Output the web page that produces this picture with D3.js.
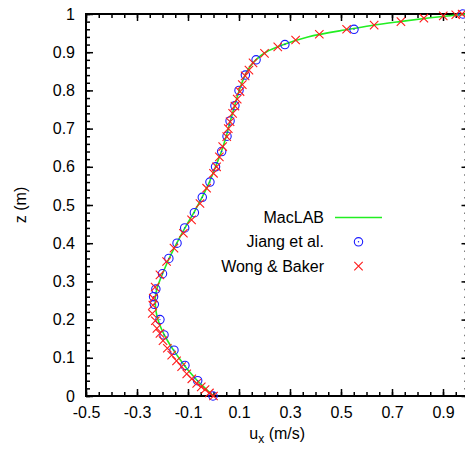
<!DOCTYPE html>
<html>
<head>
<meta charset="utf-8">
<script src="https://cdn.jsdelivr.net/npm/d3@7"></script>
<style>
  body { margin: 0; background: #fff; }
  text { font-family: "Liberation Sans", Arial, Helvetica, sans-serif; fill: #000; }
</style>
</head>
<body>
<div class="chart"></div>
<script>
  'use strict';

  // Tick labels
  var xTicks = [-0.5, -0.3, -0.1, 0.1, 0.3, 0.5, 0.7, 0.9],
      yTicks = [0, 0.1, 0.2, 0.3, 0.4, 0.5, 0.6, 0.7, 0.8, 0.9, 1];

  // MacLAB profile (z, u)
  var macZ = [0, 0.02, 0.04, 0.06, 0.08, 0.10, 0.12, 0.14, 0.16, 0.18, 0.20, 0.22, 0.24, 0.26, 0.28, 0.30,
              0.32, 0.36, 0.40, 0.44, 0.48, 0.52, 0.56, 0.60, 0.64, 0.68, 0.72, 0.76, 0.80, 0.84, 0.86,
              0.88, 0.90, 0.92, 0.94, 0.96, 0.97, 0.98, 0.99, 1.00];
  var macU = [0, -0.032, -0.063, -0.090, -0.114, -0.136, -0.157, -0.176, -0.193, -0.207, -0.218, -0.225,
              -0.228, -0.228, -0.222, -0.212, -0.200, -0.174, -0.144, -0.112, -0.077, -0.045, -0.016,
              0.008, 0.031, 0.050, 0.066, 0.083, 0.101, 0.124, 0.141, 0.166, 0.205, 0.275, 0.370, 0.530,
              0.620, 0.730, 0.850, 0.990];

  // Jiang et al.
  var jiangZ = [0, 0.04, 0.08, 0.12, 0.16, 0.20, 0.24, 0.26, 0.28, 0.32, 0.36, 0.40, 0.44, 0.48, 0.52,
                0.56, 0.60, 0.64, 0.68, 0.72, 0.76, 0.80, 0.84, 0.88, 0.92, 0.96, 1.00];
  var jiangU = [-0.002, -0.062, -0.112, -0.155, -0.194, -0.210, -0.232, -0.235, -0.226, -0.200, -0.175,
                -0.143, -0.113, -0.075, -0.044, -0.014, 0.008, 0.032, 0.053, 0.065, 0.084, 0.100, 0.125,
                0.167, 0.280, 0.551, 0.978];

  // Wong & Baker
  var wongZ = [0, 0.008, 0.017, 0.024, 0.033, 0.045, 0.058, 0.077, 0.092, 0.107, 0.125, 0.145, 0.164,
               0.177, 0.197, 0.216, 0.238, 0.256, 0.285, 0.317, 0.352, 0.387, 0.426, 0.461, 0.504, 0.544,
               0.583, 0.600, 0.626, 0.653, 0.679, 0.700, 0.718, 0.740, 0.759, 0.777, 0.797, 0.815, 0.838,
               0.853, 0.872, 0.897, 0.914, 0.932, 0.947, 0.960, 0.971, 0.980, 0.989, 0.995, 0.998, 1.000];
  var wongU = [0, -0.016, -0.033, -0.048, -0.066, -0.085, -0.105, -0.125, -0.145, -0.164, -0.181, -0.198,
               -0.210, -0.222, -0.228, -0.240, -0.238, -0.236, -0.229, -0.210, -0.184, -0.155, -0.118,
               -0.086, -0.053, -0.027, 0.000, 0.012, 0.023, 0.036, 0.052, 0.058, 0.065, 0.075, 0.084,
               0.093, 0.104, 0.113, 0.124, 0.139, 0.155, 0.200, 0.252, 0.322, 0.415, 0.522, 0.630, 0.735,
               0.825, 0.901, 0.950, 0.975];

  var width = 465, height = 449;

  var svg = d3.select('.chart')
    .append('svg')
    .attr('width', width)
    .attr('height', height);

  var x = d3.scaleLinear().domain([-0.5, 1.0]).range([86, 468.5]);
  var y = d3.scaleLinear().domain([0, 1]).range([396, 14]);

  var xMinor = d3.range(-0.5, 1.001, 0.05),
      yMinor = d3.range(0, 1.001, 0.02);

  // minor ticks first, all four sides
  function minorAxis(axis, vals, tx, ty) {
    svg.append('g')
      .attr('transform', 'translate(' + tx + ',' + ty + ')')
      .call(axis.tickValues(vals).tickSize(-4).tickSizeOuter(0).tickFormat(''))
      .call(function(g) { g.select('.domain').remove(); });
  }
  minorAxis(d3.axisBottom(x), xMinor, 0, y(0));
  minorAxis(d3.axisTop(x), xMinor, 0, y(1));
  minorAxis(d3.axisLeft(y), yMinor, x(-0.5), 0);
  minorAxis(d3.axisRight(y), yMinor, x(1.0), 0);

  // major ticks + labels
  var fmt = function(d) { return String(d); };

  svg.append('g')
    .attr('class', 'axis')
    .attr('transform', 'translate(0,' + y(0) + ')')
    .call(d3.axisBottom(x).tickValues(xTicks).tickSize(-7).tickSizeOuter(0).tickPadding(10.6).tickFormat(fmt));
  svg.append('g')
    .attr('class', 'axis')
    .attr('transform', 'translate(' + x(-0.5) + ',0)')
    .call(d3.axisLeft(y).tickValues(yTicks).tickSize(-7).tickSizeOuter(0).tickPadding(11).tickFormat(fmt));
  svg.append('g')
    .attr('class', 'axis')
    .attr('transform', 'translate(0,' + y(1) + ')')
    .call(d3.axisTop(x).tickValues(xTicks).tickSize(-7).tickSizeOuter(0).tickFormat(''));
  svg.append('g')
    .attr('class', 'axis')
    .attr('transform', 'translate(' + x(1.0) + ',0)')
    .call(d3.axisRight(y).tickValues(yTicks).tickSize(-7).tickSizeOuter(0).tickFormat(''));

  svg.selectAll('.domain').remove();
  svg.selectAll('.tick line').attr('stroke', '#000').attr('stroke-width', 1.5);
  svg.selectAll('.axis text')
    .style('font-family', '"Liberation Sans", Arial, sans-serif')
    .style('font-size', '16px')
    .attr('fill', '#000');

  // border
  svg.append('rect')
    .attr('x', x(-0.5))
    .attr('y', y(1))
    .attr('width', x(1.0) - x(-0.5))
    .attr('height', y(0) - y(1))
    .attr('fill', 'none')
    .attr('stroke', '#000')
    .attr('stroke-width', 2);

  // axis titles
  var xt = svg.append('text')
    .attr('x', (x(-0.5) + x(1.0)) / 2)
    .attr('y', 438.5)
    .attr('text-anchor', 'middle')
    .style('font-size', '16px');
  xt.append('tspan').text('u');
  xt.append('tspan').attr('dy', 4).style('font-size', '12px').text('x');
  xt.append('tspan').attr('dy', -4).text(' (m/s)');

  svg.append('text')
    .attr('transform', 'translate(26,' + (y(0) + y(1)) / 2 + ') rotate(-90)')
    .attr('text-anchor', 'middle')
    .style('font-size', '16px')
    .text('z (m)');

  // MacLAB line
  var line = d3.line()
    .x(function(d) { return x(d[1]); })
    .y(function(d) { return y(d[0]); })
    .curve(d3.curveCatmullRom);

  svg.append('path')
    .datum(d3.zip(macZ, macU))
    .attr('d', line)
    .attr('fill', 'none')
    .attr('stroke', '#22ee22')
    .attr('stroke-width', 1.6);

  function circleMark(g, cx, cy) {
    g.append('circle').attr('cx', cx).attr('cy', cy).attr('r', 4.2)
      .attr('fill', 'none').attr('stroke', '#1a1aff').attr('stroke-width', 1.1);
    g.append('circle').attr('cx', cx).attr('cy', cy).attr('r', 0.7).attr('fill', '#1a1aff');
  }
  function crossMark(g, cx, cy) {
    var s = 4.2;
    g.append('path')
      .attr('d', 'M' + (cx - s) + ',' + (cy - s) + 'L' + (cx + s) + ',' + (cy + s) +
                 'M' + (cx - s) + ',' + (cy + s) + 'L' + (cx + s) + ',' + (cy - s))
      .attr('stroke', '#ff1a1a').attr('stroke-width', 1.1).attr('fill', 'none');
  }

  var jiangG = svg.append('g');
  d3.zip(jiangZ, jiangU).forEach(function(d) { circleMark(jiangG, x(d[1]), y(d[0])); });

  var wongG = svg.append('g');
  d3.zip(wongZ, wongU).forEach(function(d) { crossMark(wongG, x(d[1]), y(d[0])); });

  // legend
  var legend = svg.append('g').style('font-size', '16px');
  var names = ['MacLAB', 'Jiang et al.', 'Wong & Baker'];
  names.forEach(function(n, i) {
    var ly = 217.5 + i * 24.3;
    legend.append('text')
      .attr('x', 324).attr('y', ly).attr('dy', '0.35em')
      .attr('text-anchor', 'end')
      .text(n);
    if (i === 0) {
      legend.append('line')
        .attr('x1', 335).attr('x2', 382).attr('y1', ly).attr('y2', ly)
        .attr('stroke', '#22ee22').attr('stroke-width', 1.6);
    } else if (i === 1) {
      circleMark(legend, 358.5, ly);
    } else {
      crossMark(legend, 358.5, ly);
    }
  });
</script>
</body>
</html>
